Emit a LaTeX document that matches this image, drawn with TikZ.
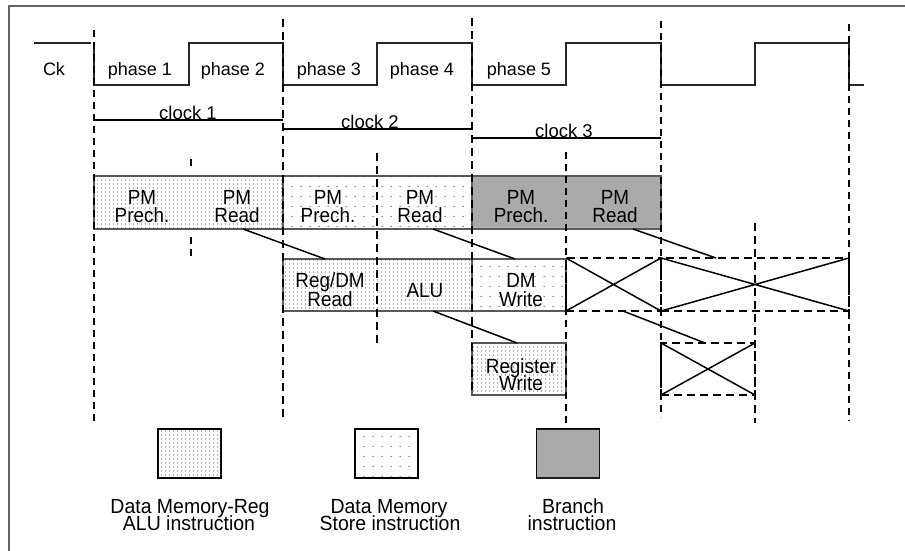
\documentclass[tikz,border=0pt]{standalone}
\usepackage{fontspec}
\setmainfont{Liberation Sans}
\newfontfamily\narrowfont[FakeStretch=0.92]{Liberation Sans}
\newfontfamily\legfont[FakeStretch=0.95]{Liberation Sans}
\usetikzlibrary{patterns}
\pgfdeclarepatternformonly{dmdots}{\pgfqpoint{0pt}{0pt}}{\pgfqpoint{4pt}{4.4pt}}{\pgfqpoint{4pt}{4.4pt}}{\pgfpathcircle{\pgfqpoint{2pt}{2.2pt}}{0.65pt}\pgfusepath{fill}}
\pgfdeclarepatternformonly{stdots}{\pgfqpoint{0pt}{0pt}}{\pgfqpoint{9pt}{10pt}}{\pgfqpoint{9pt}{10pt}}{\pgfpathcircle{\pgfqpoint{4.5pt}{5pt}}{0.65pt}\pgfusepath{fill}}
\pgfdeclarepatternformonly{brgrid}{\pgfqpoint{0pt}{0pt}}{\pgfqpoint{2.4pt}{2.4pt}}{\pgfqpoint{2.4pt}{2.4pt}}{\pgfsetlinewidth{0.5pt}\pgfpathmoveto{\pgfqpoint{0pt}{1.2pt}}\pgfpathlineto{\pgfqpoint{2.4pt}{1.2pt}}\pgfpathmoveto{\pgfqpoint{1.2pt}{0pt}}\pgfpathlineto{\pgfqpoint{1.2pt}{2.4pt}}\pgfusepath{stroke}}
\begin{document}
\begin{tikzpicture}[x=1pt,y=-1pt,
  frame/.style={draw=black!60,line width=2pt},
  wave/.style={draw=black!85,line width=1.3pt},
  clk/.style={line width=2pt},
  vthick/.style={line width=2pt,dash pattern=on 7pt off 5pt},
  vthin/.style={line width=1.1pt,dash pattern=on 8pt off 5pt},
  stage/.style={draw=black!65,line width=1.3pt,inner sep=0pt,outer sep=0pt,minimum height=53pt},
  dmfill/.style={fill=white,postaction={pattern=dmdots,pattern color=black!80}},
  stfill/.style={fill=white,postaction={pattern=stdots,pattern color=black!80}},
  brfill/.style={fill=gray!45,postaction={pattern=brgrid,pattern color=black!60}},
  xbox/.style={draw,line width=1.1pt,dash pattern=on 8pt off 5pt,inner sep=0pt,outer sep=0pt},
  conn/.style={line width=1.5pt},
  xline/.style={line width=1.5pt},
  legbox/.style={draw=black,line width=1.2pt,inner sep=0pt,outer sep=0pt,minimum width=63pt,minimum height=49pt},
  phl/.style={font=\fontsize{18}{20}\selectfont,anchor=base,inner sep=0pt},
  clkl/.style={font=\fontsize{18.5}{20}\selectfont,anchor=base,inner sep=0pt,text height=13pt,text depth=0pt},
  boxl/.style={font=\narrowfont\fontsize{20.5}{18}\selectfont,anchor=base,inner sep=0pt,text height=14pt,text depth=2pt},
  legl/.style={font=\legfont\fontsize{20.5}{17}\selectfont,anchor=base,inner sep=0pt,text height=14pt,text depth=2pt}]
\useasboundingbox (0,0) rectangle (905,551);
% frame
\draw[frame] (9,551) -- (9,6) -- (905,6);
% clock waveform
\draw[wave] (34,43) -- (91,43);
\draw[wave] (94,43) -- (94,85) -- (189,85) -- (189,43) -- (283,43) -- (283,85) -- (377,85) -- (377,43) -- (472,43) -- (472,85) -- (566,85) -- (566,43) -- (661,43) -- (661,85) -- (755,85) -- (755,43) -- (849,43) -- (849,85) -- (864,85);
% clock periods
\draw[clk] (94,119.5) -- (283,119.5);
\draw[clk] (283,129) -- (472,129);
\draw[clk] (472,138) -- (661,138);
% row 1
\node[stage,dmfill,minimum width=189pt] (b1) at (188.5,202.5) {};
\node[stage,stfill,minimum width=189pt] (b2) at (377.5,202.5) {};
\node[stage,brfill,minimum width=189pt] (b3) at (566.5,202.5) {};
% row 2
\node[stage,dmfill,minimum width=189pt,minimum height=52pt] (b4) at (377.5,285) {};
\node[stage,stfill,minimum width=94pt,minimum height=52pt] (b5) at (519,285) {};
% row 3
\node[stage,dmfill,minimum width=94pt,minimum height=52pt] (b6) at (519,369) {};
% dashed empty slots
\node[xbox,minimum width=95pt,minimum height=53pt] (xa) at (613.5,284.5) {};
\node[xbox,minimum width=188pt,minimum height=53pt] (xb) at (755,284.5) {};
\node[xbox,minimum width=94pt,minimum height=52pt] (xc) at (708,369) {};
% vertical phase lines
\draw[vthick] (94,30) -- (94,423);
\draw[vthin] (283,19) -- (283,417);
\draw[vthin] (472,18) -- (472,394);
\draw[vthick] (661,21) -- (661,417);
\draw[vthick] (849,24) -- (849,421);
\draw[vthin] (377,153) -- (377,347);
\draw[vthick] (566,152) -- (566,425);
\draw[vthin] (755,223) -- (755,423);
\draw[vthick] (191,159) -- (191,170);
\draw[vthick] (191,237) -- (191,258);
% connectors
\draw[conn] ([xshift=149pt]b1.south west) -- ([xshift=42pt]b4.north west);
\draw[conn] ([xshift=150pt]b2.south west) -- ([xshift=43pt]b5.north west);
\draw[conn] ([xshift=161pt]b3.south west) -- ([xshift=55pt]xb.north west);
\draw[conn] ([xshift=150pt]b4.south west) -- ([xshift=45pt]b6.north west);
\draw[conn] ([xshift=57pt]xa.south west) -- ([xshift=44pt]xc.north west);
% crosses
\draw[xline] (xa.north west) -- (xa.south east) (xa.south west) -- (xa.north east);
\draw[xline] (xb.north west) -- (xb.south east) (xb.south west) -- (xb.north east);
\draw[xline] (xc.north west) -- (xc.south east) (xc.south west) -- (xc.north east);
% legend boxes
\node[legbox,dmfill] (lg1) at (189.5,453.5) {};
\node[legbox,stfill] (lg2) at (386.5,453.5) {};
\node[legbox,brfill] (lg3) at (568,453.5) {};
% texts
\node[phl] (tck) at (54,76) {Ck};
\node[phl] (tp1) at (140,76) {phase 1};
\node[phl] (tp2) at (233,76) {phase 2};
\node[phl] (tp3) at (329,76) {phase 3};
\node[phl] (tp4) at (422,76) {phase 4};
\node[phl] (tp5) at (519,76) {phase 5};
\node[clkl] (tc1) at (188,119.5) {clock 1};
\node[clkl] (tc2) at (370,128.5) {clock 2};
\node[clkl] (tc3) at (564,137.5) {clock 3};
\node[boxl] (t11a) at (142,204) {PM};
\node[boxl] (t11b) at (142,222) {Prech.};
\node[boxl] (t12a) at (237,204) {PM};
\node[boxl] (t12b) at (237,222) {Read};
\node[boxl] (t21a) at (328,204) {PM};
\node[boxl] (t21b) at (328,222) {Prech.};
\node[boxl] (t22a) at (420,204) {PM};
\node[boxl] (t22b) at (420,222) {Read};
\node[boxl] (t31a) at (521,204) {PM};
\node[boxl] (t31b) at (521,222) {Prech.};
\node[boxl] (t32a) at (615,204) {PM};
\node[boxl] (t32b) at (615,222) {Read};
\node[boxl] (t41a) at (330,287) {Reg/DM};
\node[boxl] (t41b) at (330,306) {Read};
\node[boxl] (t42) at (425,297) {ALU};
\node[boxl] (t5a) at (521,287) {DM};
\node[boxl] (t5b) at (521,306) {Write};
\node[boxl] (t6a) at (521,373) {Register};
\node[boxl] (t6b) at (521,390) {Write};
\node[legl] (l1a) at (190,513) {Data Memory-Reg};
\node[legl] (l1b) at (189,530) {ALU instruction};
\node[legl] (l2a) at (389,513) {Data Memory};
\node[legl] (l2b) at (390,530) {Store instruction};
\node[legl] (l3a) at (573,513) {Branch};
\node[legl] (l3b) at (572,530) {instruction};
\end{tikzpicture}
\end{document}
